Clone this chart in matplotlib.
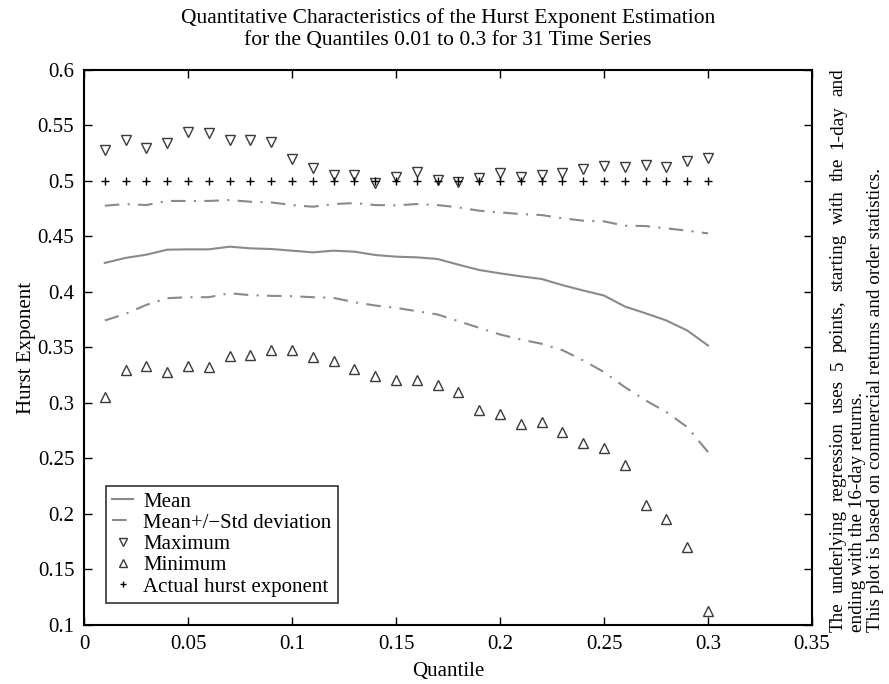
import matplotlib
matplotlib.use("Agg")
import matplotlib.pyplot as plt
from matplotlib.ticker import FuncFormatter

plt.rcParams['font.family'] = ['Liberation Serif', 'DejaVu Serif']

quantiles = [round(0.01 * k, 2) for k in range(1, 31)]

mean_vals = [0.4262, 0.4307, 0.4336, 0.4381, 0.4384, 0.4384, 0.4408, 0.4393,
             0.4387, 0.4372, 0.4357, 0.4372, 0.4363, 0.4333, 0.4318, 0.4312,
             0.4297, 0.4246, 0.4198, 0.4168, 0.4141, 0.4117, 0.4062, 0.4013,
             0.3968, 0.3869, 0.3808, 0.3743, 0.3653, 0.3518]

upper_std = [0.4777, 0.4792, 0.4783, 0.4820, 0.4820, 0.4820, 0.4828, 0.4813,
             0.4807, 0.4783, 0.4768, 0.4792, 0.4801, 0.4783, 0.4780, 0.4792,
             0.4783, 0.4762, 0.4732, 0.4717, 0.4702, 0.4693, 0.4664, 0.4642,
             0.4636, 0.4597, 0.4594, 0.4573, 0.4552, 0.4528]

lower_std = [0.3743, 0.3803, 0.3884, 0.3944, 0.3953, 0.3953, 0.3989, 0.3971,
             0.3965, 0.3962, 0.3953, 0.3947, 0.3908, 0.3878, 0.3857, 0.3827,
             0.3797, 0.3737, 0.3677, 0.3617, 0.3572, 0.3533, 0.3476, 0.3383,
             0.3278, 0.3143, 0.3023, 0.2918, 0.2783, 0.2558]

max_vals = [0.5278, 0.5370, 0.5300, 0.5346, 0.5440, 0.5430, 0.5370, 0.5370,
            0.5350, 0.5197, 0.5121, 0.5053, 0.5053, 0.4978, 0.5040, 0.5077,
            0.5010, 0.4987, 0.5031, 0.5071, 0.5040, 0.5056, 0.5071, 0.5107,
            0.5137, 0.5128, 0.5143, 0.5130, 0.5184, 0.5211]

min_vals = [0.3053, 0.3293, 0.3329, 0.3278, 0.3329, 0.3323, 0.3419, 0.3430,
            0.3473, 0.3473, 0.3413, 0.3377, 0.3302, 0.3239, 0.3209, 0.3209,
            0.3158, 0.3098, 0.2933, 0.2904, 0.2814, 0.2829, 0.2739, 0.2643,
            0.2598, 0.2445, 0.2079, 0.1953, 0.1704, 0.1129]

actual_hurst = [0.5] * 30

x_ticks = [0, 0.05, 0.1, 0.15, 0.2, 0.25, 0.3, 0.35]
y_ticks = [0.1, 0.15, 0.2, 0.25, 0.3, 0.35, 0.4, 0.45, 0.5, 0.55, 0.6]

fig = plt.figure(figsize=(8.89, 6.84), dpi=100)
ax = fig.add_axes([0.0945, 0.0863, 0.8189, 0.8114])

line_grey = '#8a8a8a'
mark_dark = '#3a3a3a'
dashdot = (0, (7, 4, 1, 4))

ax.plot(quantiles, mean_vals, color=line_grey, lw=1.5, label='Mean')
ax.plot(quantiles, upper_std, color=line_grey, lw=1.5, linestyle=dashdot,
        label='Mean+/\u2212Std deviation')
ax.plot(quantiles, lower_std, color=line_grey, lw=1.5, linestyle=dashdot)
ax.plot(quantiles, max_vals, linestyle='none', marker='v', markersize=7,
        markerfacecolor='none', markeredgecolor=mark_dark, markeredgewidth=1.0,
        label='Maximum')
ax.plot(quantiles, min_vals, linestyle='none', marker='^', markersize=7,
        markerfacecolor='none', markeredgecolor=mark_dark, markeredgewidth=1.0,
        label='Minimum')
ax.plot(quantiles, actual_hurst, linestyle='none', marker='+', markersize=6,
        markeredgecolor='black', markeredgewidth=1.0,
        label='Actual hurst exponent')

ax.set_xlim(0, 0.35)
ax.set_ylim(0.1, 0.6)
ax.set_xticks(x_ticks)
ax.set_yticks(y_ticks)
ax.xaxis.set_major_formatter(FuncFormatter(lambda v, p: f"{v:g}"))
ax.yaxis.set_major_formatter(FuncFormatter(lambda v, p: f"{v:g}"))
ax.tick_params(direction='in', length=6, width=1.0, top=True, right=True,
               labelsize=15, pad=7)
for sp in ax.spines.values():
    sp.set_linewidth(1.5)

ax.set_xlabel('Quantile', fontsize=15, labelpad=6)
ax.set_ylabel('Hurst Exponent', fontsize=15, labelpad=1)
ax.set_title('Quantitative Characteristics of the Hurst Exponent Estimation\n'
             'for the Quantiles 0.01 to 0.3 for 31 Time Series',
             fontsize=15.5, pad=18, linespacing=1.2)

leg = ax.legend(loc='lower left', bbox_to_anchor=(0.03, 0.04), fontsize=15,
                frameon=True, fancybox=False, edgecolor='black',
                handlelength=1.0, handletextpad=0.5, labelspacing=0.08,
                borderpad=0.3, borderaxespad=0.0, markerscale=0.8)
leg.get_frame().set_linewidth(1.2)

# Side notes, drawn vertically; the first line is set justified to the
# full height of the plot.
note_size = 13.8
fig.canvas.draw()
renderer = fig.canvas.get_renderer()
bottom_px = 632
top_px = 68
H = fig.get_figheight() * fig.dpi
W = fig.get_figwidth() * fig.dpi

first_words = 'The underlying regression uses 5 points, starting with the 1-day and'.split(' ')
x_first = 838
word_objs = []
total_h = 0.0
for w in first_words:
    t = fig.text(0, 0, w, rotation=90, ha='center', va='bottom', fontsize=note_size)
    h = t.get_window_extent(renderer).height
    word_objs.append((t, h))
    total_h += h
gap = (bottom_px - top_px - total_h) / (len(first_words) - 1)
pos = bottom_px
for t, h in word_objs:
    t.set_position((x_first / W, 1 - pos / H))
    pos -= h + gap

other_notes = [
    (857, 'ending with the 16-day returns.'),
    (876, 'This plot is based on commercial returns and order statistics.'),
]
for xpx, note in other_notes:
    fig.text(xpx / W, 1 - bottom_px / H, note, rotation=90, ha='center',
             va='bottom', fontsize=note_size)

fig.savefig('out.png', dpi=100)
